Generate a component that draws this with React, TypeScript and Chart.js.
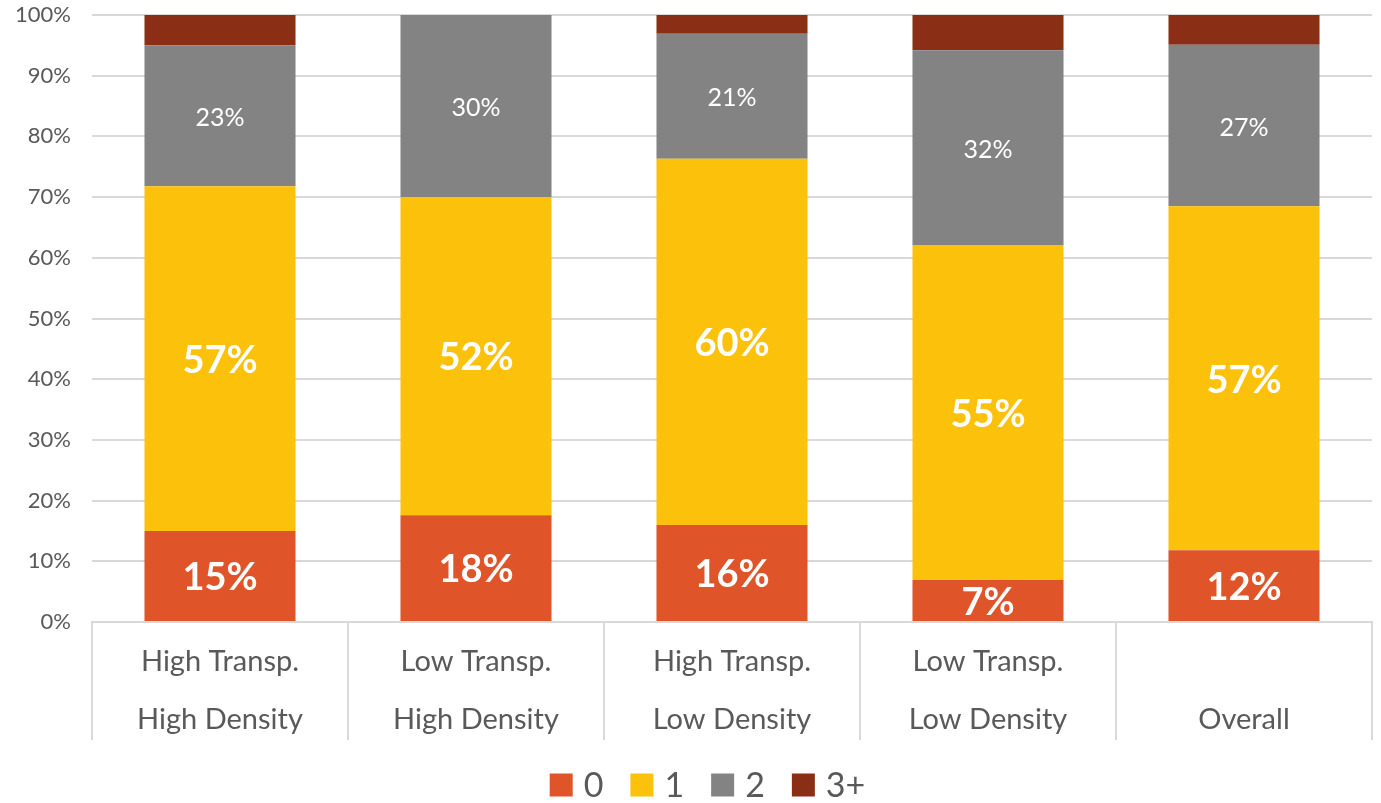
import React, { useEffect, useRef } from "react";
import { Chart, registerables } from "chart.js";

Chart.register(...registerables);

const categories: string[][] = [
  ["High Transp.", "High Density"],
  ["Low Transp.", "High Density"],
  ["High Transp.", "Low Density"],
  ["Low Transp.", "Low Density"],
  ["", "Overall"],
];
const seriesNames = ["0", "1", "2", "3+"];
const zero = [15.0, 17.6, 16.0, 6.9, 11.8];
const one = [56.8, 52.4, 60.3, 55.2, 56.7];
const two = [23.2, 30.0, 20.6, 32.1, 26.6];
const threePlus = [5.0, 0, 3.1, 5.8, 4.9];
const yTicks = [0, 10, 20, 30, 40, 50, 60, 70, 80, 90, 100];

const colors = ["#E0542A", "#FCC10B", "#838383", "#8A2F15"];
const FONT = "Lato, 'Open Sans', sans-serif";

const labelPlugin = {
  id: "segLabels",
  afterDatasetsDraw(chart: any) {
    const ctx = chart.ctx;
    ctx.save();
    ctx.fillStyle = "#ffffff";
    ctx.textAlign = "center";
    ctx.textBaseline = "middle";
    [0, 1, 2].forEach((di) => {
      const meta = chart.getDatasetMeta(di);
      const ds = chart.data.datasets[di];
      meta.data.forEach((el: any, i: number) => {
        const v = ds.data[i] as number;
        if (!v) return;
        const { x, y, base } = el.getProps(["x", "y", "base"], true);
        ctx.font = di < 2 ? `bold 38px ${FONT}` : `25px ${FONT}`;
        ctx.fillText(Math.round(v) + "%", x, (y + base) / 2 + 2);
      });
    });
    ctx.restore();
  },
};

const separatorPlugin = {
  id: "separators",
  afterDraw(chart: any) {
    const { ctx, chartArea } = chart;
    const n = chart.data.labels.length;
    const w = (chartArea.right - chartArea.left) / n;
    ctx.save();
    ctx.strokeStyle = "#D9D9D9";
    ctx.lineWidth = 2;
    for (let i = 0; i <= n; i++) {
      const x = Math.round(chartArea.left + i * w);
      ctx.beginPath();
      ctx.moveTo(x, chartArea.bottom);
      ctx.lineTo(x, chartArea.bottom + 118);
      ctx.stroke();
    }
    ctx.restore();
  },
};

const legendPlugin = {
  id: "customLegend",
  afterDraw(chart: any) {
    const ctx = chart.ctx;
    const box = 23;
    const textGap = 11;
    const itemGap = 27;
    const centerY = 785;
    ctx.save();
    ctx.font = `34px ${FONT}`;
    ctx.textBaseline = "middle";
    ctx.textAlign = "left";
    const items = chart.data.datasets.map((ds: any) => ({
      label: ds.label,
      color: ds.backgroundColor,
      tw: ctx.measureText(ds.label).width,
    }));
    const total = items.reduce((s: number, it: any, i: number) => s + box + textGap + it.tw + (i > 0 ? itemGap : 0), 0);
    let x = chart.width / 2 + 17 - total / 2;
    items.forEach((it: any) => {
      ctx.fillStyle = it.color;
      ctx.fillRect(x, centerY - box / 2, box, box);
      ctx.fillStyle = "#595959";
      ctx.fillText(it.label, x + box + textGap, centerY + 1);
      x += box + textGap + it.tw + itemGap;
    });
    ctx.restore();
  },
};

export default function App() {
  const ref = useRef<HTMLCanvasElement | null>(null);
  useEffect(() => {
    if (!ref.current) return;
    const values = [zero, one, two, threePlus];
    const chart = new Chart(ref.current, {
      type: "bar",
      data: {
        labels: categories,
        datasets: values.map((d, i) => ({
          label: seriesNames[i],
          data: d,
          backgroundColor: colors[i],
          borderWidth: 0,
          categoryPercentage: 1,
          barPercentage: 0.59,
        })),
      },
      options: {
        animation: false,
        responsive: false,
        maintainAspectRatio: false,
        layout: { padding: { top: 0, right: 9, left: 0, bottom: 63 } },
        plugins: {
          tooltip: { enabled: false },
          legend: { display: false },
        },
        scales: {
          x: {
            stacked: true,
            grid: { display: false, drawTicks: false },
            border: { display: true, color: "#D9D9D9", width: 2 },
            ticks: {
              color: "#595959",
              padding: 11,
              maxRotation: 0,
              autoSkip: false,
              font: { family: FONT, size: 29, lineHeight: 2.0 },
            },
            afterFit(scale: any) {
              scale.height = 118;
              scale.paddingLeft = 0;
              scale.paddingRight = 0;
            },
          },
          y: {
            stacked: true,
            min: 0,
            max: 100,
            afterBuildTicks(scale: any) {
              scale.ticks = yTicks.map((v) => ({ value: v }));
            },
            grid: { color: "#D9D9D9", lineWidth: 2, drawTicks: false },
            border: { display: false },
            ticks: {
              color: "#595959",
              padding: 21,
              font: { family: FONT, size: 22 },
              callback: (v: any) => v + "%",
            },
            afterFit(scale: any) {
              scale.width = 92;
              scale.paddingTop = 15;
              scale.paddingBottom = 0;
            },
          },
        },
      },
      plugins: [labelPlugin, separatorPlugin, legendPlugin],
    });
    return () => chart.destroy();
  }, []);
  return (
    <div style={{ position: "fixed", left: 0, top: 0, width: 1381, height: 803, background: "#fff" }}>
      <canvas ref={ref} width={1381} height={803} style={{ width: 1381, height: 803 }} />
    </div>
  );
}
